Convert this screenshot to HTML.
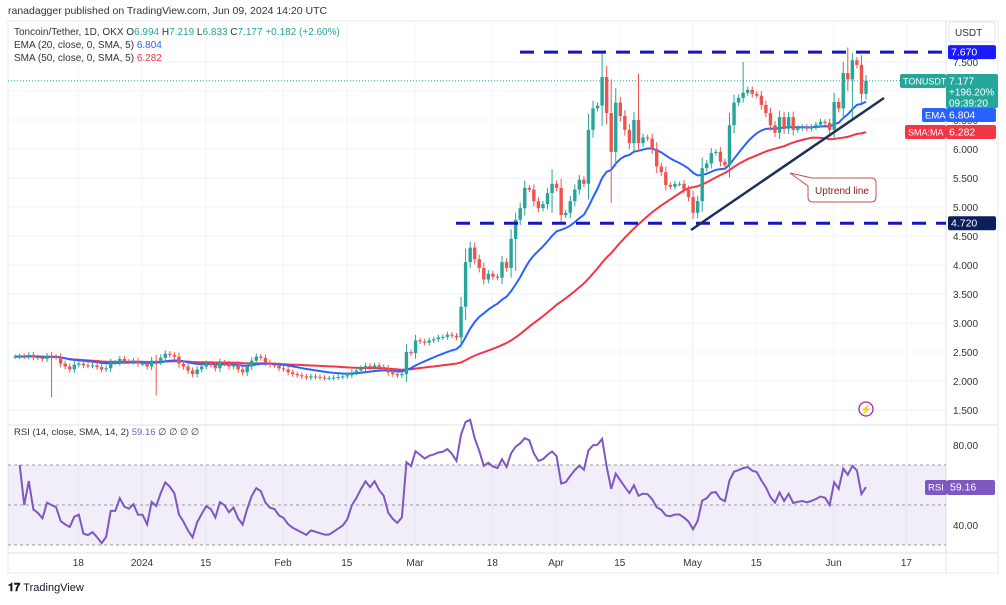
<!DOCTYPE html>
<html><head><meta charset="utf-8">
<style>
body{margin:0;background:#fff;width:1006px;height:600px;overflow:hidden;font-family:"Liberation Sans",sans-serif;}
svg text{font-family:"Liberation Sans",sans-serif;}
</style></head>
<body>
<svg id="c" width="1006" height="600" viewBox="0 0 1006 600" xmlns="http://www.w3.org/2000/svg">
<rect x="0" y="0" width="1006" height="600" fill="#fff"/>
<text x="8" y="14" font-size="10.5" fill="#333">ranadagger published on TradingView.com, Jun 09, 2024 14:20 UTC</text>
<rect x="8" y="21" width="990" height="552" fill="none" stroke="#e8e8e8"/>
<g id="grid"></g>
<g id="lines"></g>
<g id="candles"></g>
<g id="rsi"></g>
<g id="ann"></g>
<g id="axis"></g>
<text x="14" y="35" font-size="10" fill="#333">Toncoin/Tether, 1D, OKX <tspan fill="#333">O</tspan><tspan fill="#26a69a">6.994</tspan> <tspan fill="#333">H</tspan><tspan fill="#26a69a">7.219</tspan> <tspan fill="#333">L</tspan><tspan fill="#26a69a">6.833</tspan> <tspan fill="#333">C</tspan><tspan fill="#26a69a">7.177</tspan> <tspan fill="#26a69a">+0.182 (+2.60%)</tspan></text>
<text x="14" y="48" font-size="10" fill="#333">EMA (20, close, 0, SMA, 5) <tspan fill="#2962ff">6.804</tspan></text>
<text x="14" y="61" font-size="10" fill="#333">SMA (50, close, 0, SMA, 5) <tspan fill="#f23645">6.282</tspan></text>
<text x="14" y="435" font-size="9.5" fill="#333">RSI (14, close, SMA, 14, 2) <tspan fill="#7e57c2">59.16</tspan>  ∅  ∅  ∅  ∅</text>
<text x="8" y="591" font-size="11" font-weight="bold" fill="#131722">𝟏𝟕 <tspan font-weight="normal">TradingView</tspan></text>
</svg>
<script>
// ---- data ----
const closes = [
2.42,2.43,2.42,2.45,2.41,2.40,2.38,2.43,2.42,2.41,2.30,
2.25,2.20,2.28,2.30,2.27,2.26,2.27,2.24,2.20,2.22,2.32,2.32,2.38,2.34,2.33,2.35,2.30,
2.30,2.25,2.35,2.33,2.40,2.47,2.45,2.42,2.30,2.25,2.18,2.12,2.20,2.25,2.30,
2.28,2.22,2.32,2.30,2.25,2.28,2.20,2.15,2.25,2.35,2.42,2.40,2.32,2.28,2.27,2.22,
2.20,2.15,2.12,2.10,2.08,2.06,2.08,2.07,2.06,2.05,2.05,2.06,2.07,2.08,2.10,2.15,2.18,2.22,2.26,2.24,2.27,2.24,2.22,2.15,2.12,2.10,2.12,2.50,2.48,
2.70,2.68,2.66,2.70,2.72,2.75,2.76,2.80,2.78,2.75,3.28,4.05,4.30,4.10,3.95,3.75,3.85,3.80,3.78,4.05,3.95,4.45,4.78,4.98,5.33,5.30,5.10,4.98,5.05,5.24,5.40,
5.33,4.86,4.90,5.10,5.30,5.47,5.40,6.33,6.70,6.75,7.24,6.62,5.95,6.80,6.57,6.33,6.10,6.50,6.10,6.20,6.18,6.00,5.70,5.60,5.38,5.35,5.40,5.40,5.30,5.17,
4.90,5.10,5.67,5.75,5.93,5.95,5.78,5.72,6.41,6.80,6.88,6.97,7.02,6.95,6.92,6.76,6.62,6.41,6.28,6.55,6.35,6.55,6.33,6.36,6.38,6.35,6.38,6.42,6.47,6.45,6.33,
6.81,6.70,7.31,7.20,7.53,7.45,6.95,7.177];
// notable wicks: [barIndex, high, low]
const spikes = [[8,2.5,1.72],[31,2.45,1.75],[98,2.95,2.6],[129,7.67,6.4],[131,7.2,5.07],[137,7.3,6.3],[110,4.55,3.9],[118,5.65,4.9],[160,7.5,6.8],[183,7.75,7.0],[184,7.6,6.5]];
const priceTicks = [1.5,2,2.5,3,3.5,4,4.5,5,5.5,6,6.5,7,7.5];
const rsiTicks = [40,80];
const timeLabels = ["18","2024","15","Feb","15","Mar","18","Apr","15","May","15","Jun","17"];
const timeDays = [-14,0,14,31,45,60,77,91,105,121,135,152,168];
const resistance = 7.67, support = 4.72;

// ---- scales ----
const N = closes.length;
const xBar = i => 866 - (N-1-i)*4.55;
const xDay = d => 142 + d*4.55;
const yP = p => 410 - (p-1.5)*58;
const yR = r => 445 - (r-80)*2;
const NS='http://www.w3.org/2000/svg';
function mk(tag, attrs, parent){const e=document.createElementNS(NS,tag);for(const k in attrs)e.setAttribute(k,attrs[k]);document.getElementById(parent).appendChild(e);return e;}

// grid
timeDays.forEach((d,i)=>{
 const g=mk('line',{x1:xDay(d),x2:xDay(d),y1:22,y2:553,stroke:'#f0f3fa'},'grid');
 
 
 const t=mk('text',{x:xDay(d),y:566,'font-size':10,fill:'#333','text-anchor':'middle'},'axis');
 t.textContent=timeLabels[i];
 
 
});
priceTicks.forEach(p=>{
 const g=mk('line',{x1:8,x2:946,y1:yP(p),y2:yP(p),stroke:'#f0f3fa'},'grid');
 
 
 const t=mk('text',{x:953,y:yP(p)+4,'font-size':10,fill:'#333'},'axis');
 t.textContent=p.toFixed(3);
 
 
});
mk('line',{x1:8,x2:998,y1:425,y2:425,stroke:'#e0e3eb'},'grid');
mk('line',{x1:946,x2:946,y1:21,y2:573,stroke:'#e0e3eb'},'grid');
mk('line',{x1:8,x2:998,y1:553,y2:553,stroke:'#e0e3eb'},'grid');

// close dotted line
mk('line',{x1:8,x2:946,y1:yP(7.177),y2:yP(7.177),stroke:'#26a69a','stroke-dasharray':'1 2','stroke-width':1},'lines');

// SMA50 & EMA20
function smaArr(n){return closes.map((c,i)=>{const s=closes.slice(Math.max(0,i-n+1),i+1);return s.reduce((a,b)=>a+b,0)/s.length;});}
function emaArr(n){const k=2/(n+1);let e=closes[0];return closes.map(c=>(e=c*k+e*(1-k)));}
const sma=smaArr(50), ema=emaArr(20);
const smaL=mk('polyline',{points:sma.map((v,i)=>xBar(i)+','+yP(v)).join(' '),fill:'none',stroke:'#f23645','stroke-width':2},'lines');


const emaL=mk('polyline',{points:ema.map((v,i)=>xBar(i)+','+yP(v)).join(' '),fill:'none',stroke:'#2962ff','stroke-width':2},'lines');



// candles
closes.forEach((c,i)=>{
 const o = i===0?c:closes[i-1];
 let hi=Math.max(o,c)+Math.abs(c-o)*0.25+0.04, lo=Math.min(o,c)-Math.abs(c-o)*0.25-0.04;
 spikes.forEach(s=>{if(s[0]===i){hi=Math.max(hi,s[1]);lo=Math.min(lo,s[2]);}});
 const col=c>=o?'#26a69a':'#ef5350';
 const x=xBar(i);
 const w=mk('line',{x1:x,x2:x,y1:yP(hi),y2:yP(lo),stroke:col,'stroke-width':1},'candles');
 
 
 const top=yP(Math.max(o,c)), h=Math.max(1,yP(Math.min(o,c))-top);
 const b=mk('rect',{x:x-1.7,y:top,width:3.4,height:h,fill:col},'candles');
 
 
});

// RSI
mk('rect',{x:8,y:yR(70),width:938,height:yR(30)-yR(70),fill:'#7e57c2','fill-opacity':0.1},'rsi');
[70,50,30].forEach(v=>mk('line',{x1:8,x2:946,y1:yR(v),y2:yR(v),stroke:'#9598a1','stroke-dasharray':'3 3'},'rsi'));
rsiTicks.forEach(v=>{const t=mk('text',{x:953,y:yR(v)+4,'font-size':10,fill:'#333'},'axis');t.textContent=v.toFixed(2);
 
 });
const rsi=[];let ag=0,al=0;
for(let i=1;i<N;i++){const d=closes[i]-closes[i-1];const g=Math.max(d,0),l=Math.max(-d,0);
 if(i<=14){ag+=g/14;al+=l/14;}else{ag=(ag*13+g)/14;al=(al*13+l)/14;}
 rsi[i]= al===0?100:100-100/(1+ag/al);}
const pts=[];for(let i=1;i<N;i++){const r=i<15?50+(rsi[i]-50)*0.4:rsi[i];pts.push(xBar(i)+','+yR(r));}
const rl=mk('polyline',{points:pts.join(' '),fill:'none',stroke:'#7e57c2','stroke-width':2},'rsi');



// annotations
const res=mk('line',{x1:520,x2:946,y1:yP(resistance),y2:yP(resistance),stroke:'#1515c8','stroke-width':3,'stroke-dasharray':'14 10'},'ann');


const sup=mk('line',{x1:456,x2:946,y1:yP(support),y2:yP(support),stroke:'#1515c8','stroke-width':3,'stroke-dasharray':'14 10'},'ann');


const up=mk('line',{x1:691,x2:884,y1:230,y2:98,stroke:'#1e2f5a','stroke-width':2.5},'ann');


const call=mk('path',{d:'M790,173 L812,178 L871,178 Q876,178 876,183 L876,197 Q876,202 871,202 L813,202 Q808,202 808,197 L808,186 Z',fill:'#fff',stroke:'#c0504d','stroke-width':1},'ann');


const ct=mk('text',{x:842,y:194,'font-size':10,fill:'#8b1a1a','text-anchor':'middle'},'ann');ct.textContent='Uptrend line';



function label(x,y,w,h,fill,txt,name,fs){
 const r=mk('rect',{x:x,y:y,width:w,height:h,fill:fill,rx:2},'axis');
 
 
 txt.forEach((t,k)=>{const e=mk('text',{x:x+3,y:y+10.5+k*11,'font-size':fs||10.5,fill:'#fff'},'axis');e.textContent=t;});
}
mk('rect',{x:949,y:22,width:46,height:20,fill:'#fff',stroke:'#e0e3eb',rx:3},'axis');
const us=mk('text',{x:955,y:36,'font-size':10,fill:'#333'},'axis');us.textContent='USDT';
label(948,yP(resistance)-7,48,14,'#1a1aff',['7.670'],'resistance-price-label');
label(900,74,46,14,'#26a69a',['TONUSDT'],'symbol-price-tag',9);
label(946,74,52,34,'#26a69a',['7.177','+196.20%','09:39:20'],'last-price-label',10);
label(922,108,24,14,'#2962ff',['EMA'],'ema-tag',9.5);
label(946,108,50,14,'#2962ff',['6.804'],'ema-price-label');
label(905,125,41,14,'#f23645',['SMA:MA'],'sma-tag',9);
label(946,125,50,14,'#f23645',['6.282'],'sma-price-label');
label(948,yP(support)-7,48,14,'#0b1f5c',['4.720'],'support-price-label');
label(925,480,22,15,'#7e57c2',['RSI'],'rsi-tag',9.5);
label(947,480,48,15,'#7e57c2',['59.16'],'rsi-value-label');
const bolt=mk('circle',{cx:866,cy:409,r:7,fill:'none',stroke:'#9c27b0','stroke-width':1.3},'ann');


const bt=mk('text',{x:866,y:413,'font-size':10,fill:'#9c27b0','text-anchor':'middle'},'ann');bt.textContent='⚡';
</script>
</body></html>
